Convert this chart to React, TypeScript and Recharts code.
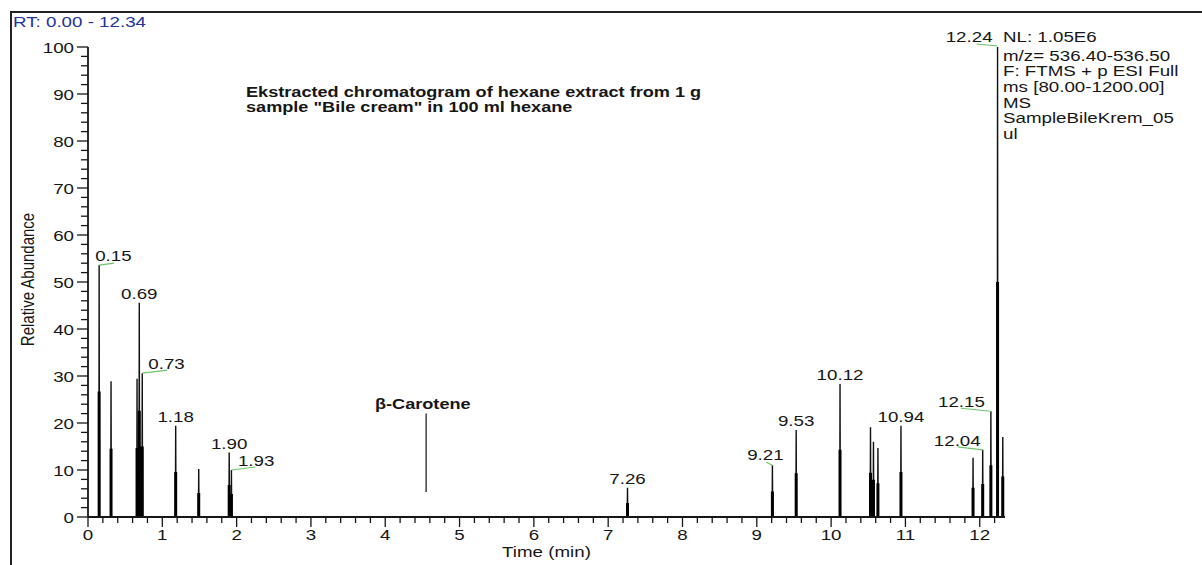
import React from "react";
import { ComposedChart, Line, Scatter, XAxis, YAxis, ReferenceLine } from "recharts";

// retention times (min) and relative abundance of every peak in the trace
const times = [0.15, 0.31, 0.66, 0.69, 0.73, 1.18, 1.49, 1.9, 1.93, 7.26, 9.21, 9.53, 10.12, 10.53, 10.57, 10.63, 10.94, 11.91, 12.04, 12.15, 12.24, 12.31];
const heights = [53.6, 28.9, 29.4, 45.6, 30.6, 19.4, 10.2, 13.7, 10.0, 6.2, 11.0, 18.5, 28.3, 19.1, 16.0, 14.7, 19.4, 12.6, 14.3, 22.5, 100, 17.0];
// darker sampled part at the foot of each peak
const footHeights = [26.7, 14.5, 14.7, 22.6, 15.0, 9.6, 5.1, 6.8, 4.9, 3.0, 5.4, 9.3, 14.3, 9.4, 7.9, 7.2, 9.6, 6.2, 7.0, 11.0, 50, 8.6];
const peakLabels = ["0.15", "0.69", "0.73", "1.18", "1.90", "1.93", "7.26", "9.21", "9.53", "10.12", "10.94", "12.04", "12.15", "12.24"];

const caroteneTime = 4.55;
const caroteneRange = [5.3, 22];

const rtRange = [0, 12.34];
const xMajor = [0, 1, 2, 3, 4, 5, 6, 7, 8, 9, 10, 11, 12];
const yMajor = [0, 10, 20, 30, 40, 50, 60, 70, 80, 90, 100];

const infoLines = ["NL: 1.05E6", "m/z= 536.40-536.50", "F: FTMS + p ESI Full", "ms [80.00-1200.00]", "MS", "SampleBileKrem_05", "ul"];
const titleLines = ["Ekstracted chromatogram of hexane extract from 1 g", 'sample "Bile cream" in 100 ml hexane'];

// trace and foot series built from the arrays above
const trace: { t: number; h: number }[] = [{ t: rtRange[0], h: 0 }];
times.forEach((t, i) => {
  trace.push({ t: t - 0.004, h: 0 }, { t, h: heights[i] }, { t: t + 0.004, h: 0 });
});
trace.push({ t: rtRange[1], h: 0 });

const feet: { t: number; h: number | null }[] = [];
times.forEach((t, i) => {
  feet.push({ t, h: 0 }, { t, h: footHeights[i] }, { t, h: null });
});

const labelled = peakLabels.map((label) => {
  const i = times.indexOf(Number(label));
  return { t: times[i], h: heights[i], label };
});

const xTicks: number[] = [];
for (let i = 0; i <= 61; i++) xTicks.push(Math.round(i * 2) / 10);
const yTicks: number[] = [];
for (let i = 0; i <= 50; i++) yTicks.push(i * 2);

const FONT = "'Liberation Sans', Arial, sans-serif";
const STRETCH = 1.25; // the source image is widened horizontally
const INK = "#161616";

type Pos = { anchor: "start" | "middle" | "end"; dx: number; dy: number; lead?: number[] };
const labelPos: Record<string, Pos> = {
  "0.15": { anchor: "start", dx: -4, dy: -4, lead: [0, 0, 15, -2] },
  "0.73": { anchor: "start", dx: 6, dy: -4, lead: [0, 0, 25, -3] },
  "1.93": { anchor: "start", dx: 6.5, dy: -4, lead: [0, 0, 24, -3] },
  "9.21": { anchor: "middle", dx: -7, dy: -5, lead: [-6, -3, 0, 0] },
  "12.04": { anchor: "end", dx: -2, dy: -4, lead: [-25, -3, 0, 0] },
  "12.15": { anchor: "end", dx: -6, dy: -4, lead: [-30, -3, 0, 0] },
  "12.24": { anchor: "end", dx: -5, dy: -5, lead: [-21, -3, 0, -1] },
};

function Txt(props: { x: number; y: number; children: React.ReactNode; anchor?: string; size?: number; bold?: boolean; fill?: string; rotate?: number }) {
  const { x, y, anchor = "start", size = 15, bold, fill = INK, rotate } = props;
  return (
    <text
      transform={`translate(${x},${y}) scale(${STRETCH},1)${rotate ? ` rotate(${rotate})` : ""}`}
      textAnchor={anchor}
      fontFamily={FONT}
      fontSize={size}
      fontWeight={bold ? "bold" : "normal"}
      fill={fill}
    >
      {props.children}
    </text>
  );
}

const isMajor = (v: number) => Math.abs(v - Math.round(v / 1) ) < 1e-6;

function XTick(props: any) {
  const { x, y, payload } = props;
  const v = payload.value;
  const major = isMajor(v) && xMajor.includes(Math.round(v));
  return (
    <g>
      <line x1={x} x2={x} y1={y} y2={y + (major ? 10 : 6)} stroke={INK} strokeWidth={1.3} />
      {major && <Txt x={x} y={y + 23} anchor="middle">{Math.round(v)}</Txt>}
    </g>
  );
}

function YTick(props: any) {
  const { x, y, payload } = props;
  const v = payload.value;
  const major = yMajor.includes(v);
  return (
    <g>
      <line x1={x - (major ? 11 : 7)} x2={x} y1={y} y2={y} stroke={INK} strokeWidth={1.3} />
      {major && <Txt x={x - 14} y={y + 6} anchor="end">{v}</Txt>}
    </g>
  );
}

function PeakLabel(props: any) {
  const { cx, cy, payload } = props;
  const p = labelPos[payload.label] || { anchor: "middle", dx: 0, dy: -4 };
  return (
    <g>
      {p.lead && (
        <line x1={cx + p.lead[0]} y1={cy + p.lead[1]} x2={cx + p.lead[2]} y2={cy + p.lead[3]} stroke="#6cc46c" strokeWidth={1.2} />
      )}
      <Txt x={cx + p.dx} y={cy + p.dy} anchor={p.anchor}>{payload.label}</Txt>
    </g>
  );
}

export default function App() {
  return (
    <div style={{ position: "relative", width: 1202, height: 565, overflow: "hidden", background: "#fff" }}>
      <style>{`body{margin:0}`}</style>
      <ComposedChart width={1202} height={565} margin={{ top: 47, right: 197, left: 0, bottom: 0 }}>
        <XAxis
          dataKey="t"
          type="number"
          domain={rtRange}
          ticks={xTicks}
          interval={0}
          tickSize={0}
          tickMargin={0}
          height={48}
          tick={(p: any) => <XTick {...p} />}
          axisLine={{ stroke: INK, strokeWidth: 1.8 }}
          allowDataOverflow
        />
        <YAxis
          dataKey="h"
          type="number"
          domain={[0, 100]}
          ticks={yTicks}
          interval={0}
          tickSize={0}
          tickMargin={0}
          width={88}
          tick={(p: any) => <YTick {...p} />}
          axisLine={{ stroke: INK, strokeWidth: 1.8 }}
        />
        <Line data={trace} dataKey="h" type="linear" stroke="#111" strokeWidth={1.4} dot={false} isAnimationActive={false} />
        <Line data={feet} dataKey="h" type="linear" stroke="#000" strokeWidth={3} dot={false} connectNulls={false} isAnimationActive={false} />
        <ReferenceLine
          segment={[
            { x: caroteneTime, y: caroteneRange[0] },
            { x: caroteneTime, y: caroteneRange[1] },
          ]}
          stroke="#222"
          strokeWidth={1.3}
        />
        <Scatter data={labelled} dataKey="h" shape={(p: any) => <PeakLabel {...p} />} isAnimationActive={false} />
      </ComposedChart>

      <svg width={1202} height={565} style={{ position: "absolute", left: 0, top: 0, pointerEvents: "none" }}>
        <line x1={11} y1={12} x2={11} y2={565} stroke="#222" strokeWidth={2} />
        <line x1={10} y1={12} x2={1202} y2={12} stroke="#222" strokeWidth={2} />
        <Txt x={13} y={26.5} fill="#22349a">RT: 0.00 - 12.34</Txt>
        {titleLines.map((s, i) => (
          <Txt key={s} x={246} y={96.5 + i * 15.5} size={14.5} bold>{s}</Txt>
        ))}
        <Txt x={375} y={409} size={14.5} bold>β-Carotene</Txt>
        {infoLines.map((s, i) => (
          <Txt key={s} x={1003} y={i === 0 ? 42 : 60.5 + (i - 1) * 15.7}>{s}</Txt>
        ))}
        <Txt x={33.5} y={279.5} anchor="middle" rotate={-90}>Relative Abundance</Txt>
        <Txt x={546.5} y={557} anchor="middle">Time (min)</Txt>
      </svg>
    </div>
  );
}
